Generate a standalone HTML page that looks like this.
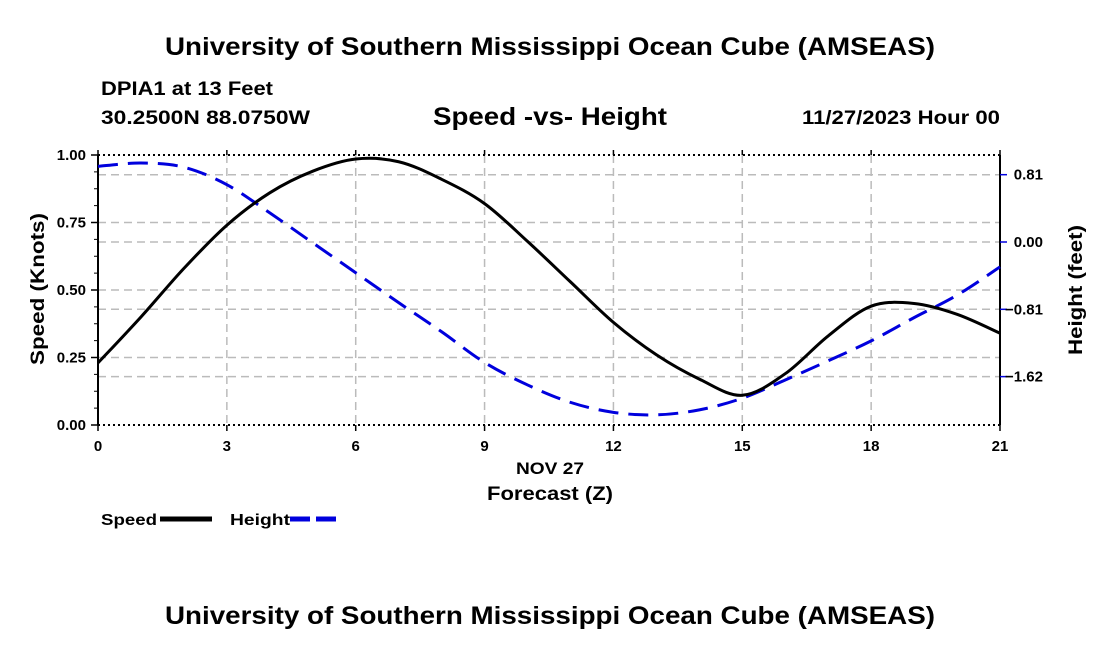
<!DOCTYPE html>
<html><head><meta charset="utf-8"><style>
body{margin:0;background:#fff;}
svg text{font-family:"Liberation Sans",sans-serif;font-weight:bold;fill:#000;}
</style></head><body>
<svg id="chart" width="1100" height="650" viewBox="0 0 1100 650">
<text x="165" y="55" font-size="25" textLength="770" lengthAdjust="spacingAndGlyphs">University of Southern Mississippi Ocean Cube (AMSEAS)</text>
<text x="101" y="95" font-size="19" textLength="172" lengthAdjust="spacingAndGlyphs">DPIA1 at 13 Feet</text>
<text x="101" y="124" font-size="19" textLength="209" lengthAdjust="spacingAndGlyphs">30.2500N  88.0750W</text>
<text x="433" y="125" font-size="25" textLength="234" lengthAdjust="spacingAndGlyphs">Speed -vs- Height</text>
<text x="802" y="124" font-size="19" textLength="198" lengthAdjust="spacingAndGlyphs">11/27/2023 Hour 00</text>
<g id="grid"></g>
<g id="axes"></g>
<g id="series"></g>
<text x="516" y="474" font-size="17" textLength="68" lengthAdjust="spacingAndGlyphs">NOV 27</text>
<text x="487" y="500" font-size="19" textLength="126" lengthAdjust="spacingAndGlyphs">Forecast (Z)</text>
<text transform="translate(44,365) rotate(-90)" font-size="19" textLength="152" lengthAdjust="spacingAndGlyphs">Speed (Knots)</text>
<text transform="translate(1082,355) rotate(-90)" font-size="19" textLength="130" lengthAdjust="spacingAndGlyphs">Height (feet)</text>
<g>
<text x="101" y="525" font-size="16" textLength="56" lengthAdjust="spacingAndGlyphs">Speed</text>
<line x1="160" y1="519" x2="212" y2="519" stroke="#000" stroke-width="5"/>
<text x="230" y="525" font-size="16" textLength="60" lengthAdjust="spacingAndGlyphs">Height</text>
<line x1="290" y1="519" x2="342" y2="519" stroke="#0000dd" stroke-width="5" stroke-dasharray="20 6"/>
</g>
<text x="165" y="624" font-size="25" textLength="770" lengthAdjust="spacingAndGlyphs">University of Southern Mississippi Ocean Cube (AMSEAS)</text>
</svg>
<script>
const hours = [0,1,2,3,4,5,6,7,8,9,10,11,12,13,14,15,16,17,18,19,20,21];
const speed = [0.23,0.40,0.58,0.74,0.86,0.94,0.985,0.975,0.91,0.82,0.68,0.53,0.38,0.26,0.17,0.11,0.19,0.33,0.44,0.45,0.41,0.34];
const height = [0.91,0.95,0.90,0.69,0.35,-0.01,-0.37,-0.73,-1.08,-1.45,-1.72,-1.93,-2.05,-2.08,-2.02,-1.88,-1.66,-1.43,-1.19,-0.91,-0.64,-0.30];
const xTicks = [0,3,6,9,12,15,18,21];
const leftTicks = [0,0.25,0.5,0.75,1.0];
const rightTicks = [0.81,0,-0.81,-1.62];

const X0=98,X1=1000,YT=155,YB=425;
const xs=h=>X0+(X1-X0)*h/21;
const ysL=v=>YB-(YB-YT)*v;
const ysR=v=>242-v*83.1;
const NS="http://www.w3.org/2000/svg";
function mk(parent,tag,attrs){const e=document.createElementNS(NS,tag);for(const k in attrs)e.setAttribute(k,attrs[k]);parent.appendChild(e);return e;}
const grid=document.getElementById('grid'),axes=document.getElementById('axes'),series=document.getElementById('series');
const gs={stroke:'#bbb','stroke-width':1.5,'stroke-dasharray':'8 5'};
xTicks.forEach(t=>{if(t>0&&t<21){const l=mk(grid,'line',Object.assign({x1:xs(t),x2:xs(t),y1:YT,y2:YB},gs));

}});
leftTicks.forEach(t=>{if(t>0&&t<1){const l=mk(grid,'line',Object.assign({x1:X0,x2:X1,y1:ysL(t),y2:ysL(t)},gs));

}});
rightTicks.forEach(t=>{const l=mk(grid,'line',Object.assign({x1:X0,x2:X1,y1:ysR(t),y2:ysR(t)},gs));

});
mk(axes,'line',{x1:X0,x2:X1,y1:YT,y2:YT,stroke:'#000','stroke-width':2,'stroke-dasharray':'2 3'});
mk(axes,'line',{x1:X0,x2:X1,y1:YB,y2:YB,stroke:'#000','stroke-width':2,'stroke-dasharray':'2 3'});
mk(axes,'line',{x1:X0,x2:X0,y1:YT,y2:YB,stroke:'#000','stroke-width':2});
mk(axes,'line',{x1:X1,x2:X1,y1:YT,y2:YB,stroke:'#000','stroke-width':2});
xTicks.forEach(t=>{mk(axes,'line',{x1:xs(t),x2:xs(t),y1:YB,y2:YB+6,stroke:'#000','stroke-width':1.5});
mk(axes,'line',{x1:xs(t),x2:xs(t),y1:YT,y2:YT-5,stroke:'#000','stroke-width':1.5});
const tx=mk(axes,'text',{x:xs(t),y:YB+26,'font-size':15,'text-anchor':'middle'});tx.textContent=t;

});
for(let v=0;v<=1.0001;v+=0.0625){mk(axes,'line',{x1:X0-4,x2:X0,y1:ysL(v),y2:ysL(v),stroke:'#000','stroke-width':1});}
leftTicks.forEach(t=>{mk(axes,'line',{x1:X0-7,x2:X0,y1:ysL(t),y2:ysL(t),stroke:'#000','stroke-width':1.5});
const tx=mk(axes,'text',{x:X0-12,y:ysL(t)+5,'font-size':15,'text-anchor':'end'});tx.textContent=t.toFixed(2);

});
rightTicks.forEach(t=>{mk(axes,'line',{x1:X1,x2:X1+7,y1:ysR(t),y2:ysR(t),stroke:'#0000dd','stroke-width':1.5});
const tx=mk(axes,'text',{x:1043,y:ysR(t)+5,'font-size':15,'text-anchor':'end'});
tx.textContent=(t<0?'\u2212':'')+Math.abs(t).toFixed(2);

});
function smooth(pts){let d='M'+pts[0][0]+','+pts[0][1];for(let i=0;i<pts.length-1;i++){const p0=pts[Math.max(0,i-1)],p1=pts[i],p2=pts[i+1],p3=pts[Math.min(pts.length-1,i+2)];
d+=' C'+(p1[0]+(p2[0]-p0[0])/6)+','+(p1[1]+(p2[1]-p0[1])/6)+' '+(p2[0]-(p3[0]-p1[0])/6)+','+(p2[1]-(p3[1]-p1[1])/6)+' '+p2[0]+','+p2[1];}return d;}
const hp=mk(series,'path',{d:smooth(hours.map((h,i)=>[xs(h),ysR(height[i])])),fill:'none',stroke:'#0000dd','stroke-width':3,'stroke-dasharray':'20 10'});


const sp=mk(series,'path',{d:smooth(hours.map((h,i)=>[xs(h),ysL(speed[i])])),fill:'none',stroke:'#000','stroke-width':3});


</script>
</body></html>
